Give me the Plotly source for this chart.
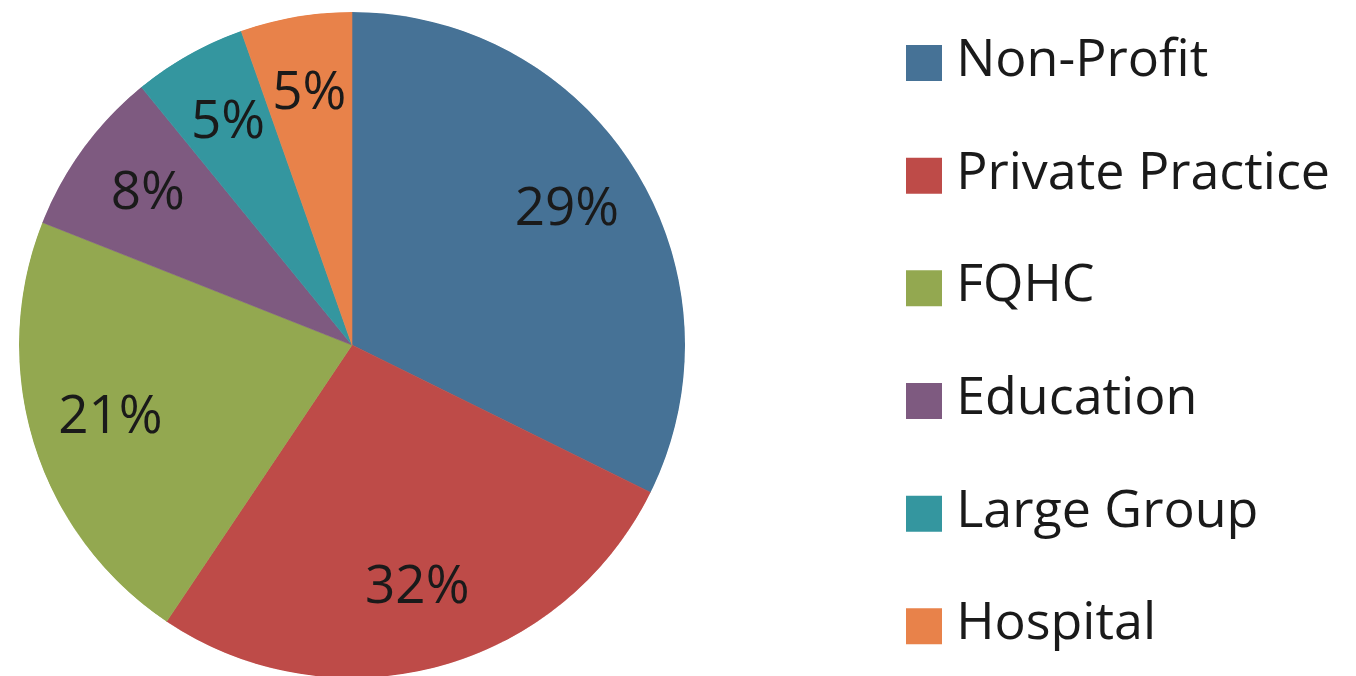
import plotly.graph_objects as go

# Categories (clockwise from 12 o'clock)
categories = ["Non-Profit", "Private Practice", "FQHC", "Education", "Large Group", "Hospital"]
slice_shares = [32.3, 27.1, 21.6, 8.1, 5.5, 5.4]
# Percent labels as printed on the slices
pct_labels = ["29%", "32%", "21%", "8%", "5%", "5%"]
colors = ["#467296", "#BE4B48", "#93A850", "#7E5A80", "#34969F", "#E8824A"]

FONT = "Open Sans"
TEXT_COLOR = "#1a1a1a"
W, H = 1356, 676
LABEL_R = 0.76  # radial position of slice labels (fraction of radius)

# pie geometry (paper px; page body adds an 8px offset)
PIE_DOMAIN_X = [11 / W, 677 / W]
PIE_DOMAIN_Y = [6 / H, 672 / H]

# slice angles, clockwise from 12 o'clock
total = sum(slice_shares)
widths = [s / total * 360.0 for s in slice_shares]
mid_theta = []
acc = 0.0
for w in widths:
    mid_theta.append(acc + w / 2)
    acc += w

fig = go.Figure()

# Pie slices as full-radius polar sectors
fig.add_trace(go.Barpolar(
    r=[1] * len(categories),
    theta=mid_theta,
    width=widths,
    marker=dict(color=colors, line=dict(color=colors, width=0.6)),
    hovertext=[f"{c}: {p}" for c, p in zip(categories, pct_labels)],
    hoverinfo="text",
    showlegend=False,
    subplot="polar",
))

# Slice labels
fig.add_trace(go.Scatterpolar(
    r=[LABEL_R] * len(categories),
    theta=mid_theta,
    mode="text",
    text=pct_labels,
    textposition="middle center",
    textfont=dict(family=FONT, size=53, color=TEXT_COLOR),
    hoverinfo="skip",
    showlegend=False,
    subplot="polar",
))

# Legend drawn as a categorical scatter on its own axes
fig.add_trace(go.Scatter(
    x=[0] * len(categories),
    y=categories,
    mode="markers+text",
    marker=dict(symbol="square", size=36, color=colors, line=dict(width=0)),
    text=categories,
    texttemplate="\u2009%{text}",
    textposition="middle right",
    textfont=dict(family=FONT, size=52, color=TEXT_COLOR),
    cliponaxis=False,
    hoverinfo="skip",
    showlegend=False,
    xaxis="x2",
    yaxis="y2",
))

fig.update_layout(
    width=W,
    height=H,
    margin=dict(l=0, r=0, t=0, b=0),
    paper_bgcolor="white",
    plot_bgcolor="rgba(0,0,0,0)",
    polar=dict(
        domain=dict(x=PIE_DOMAIN_X, y=PIE_DOMAIN_Y),
        bgcolor="rgba(0,0,0,0)",
        hole=0,
        bargap=0,
        radialaxis=dict(range=[0, 1], visible=False, showgrid=False),
        angularaxis=dict(rotation=90, direction="clockwise", visible=False, showgrid=False),
    ),
    xaxis2=dict(domain=[828 / W, 1], range=[-0.2, 1], visible=False, fixedrange=True),
    yaxis2=dict(domain=[0, 1], type="category", categoryorder="array",
                categoryarray=categories, range=[5.512, -0.488],
                visible=False, fixedrange=True),
    showlegend=False,
)

fig.write_html("out.html")
